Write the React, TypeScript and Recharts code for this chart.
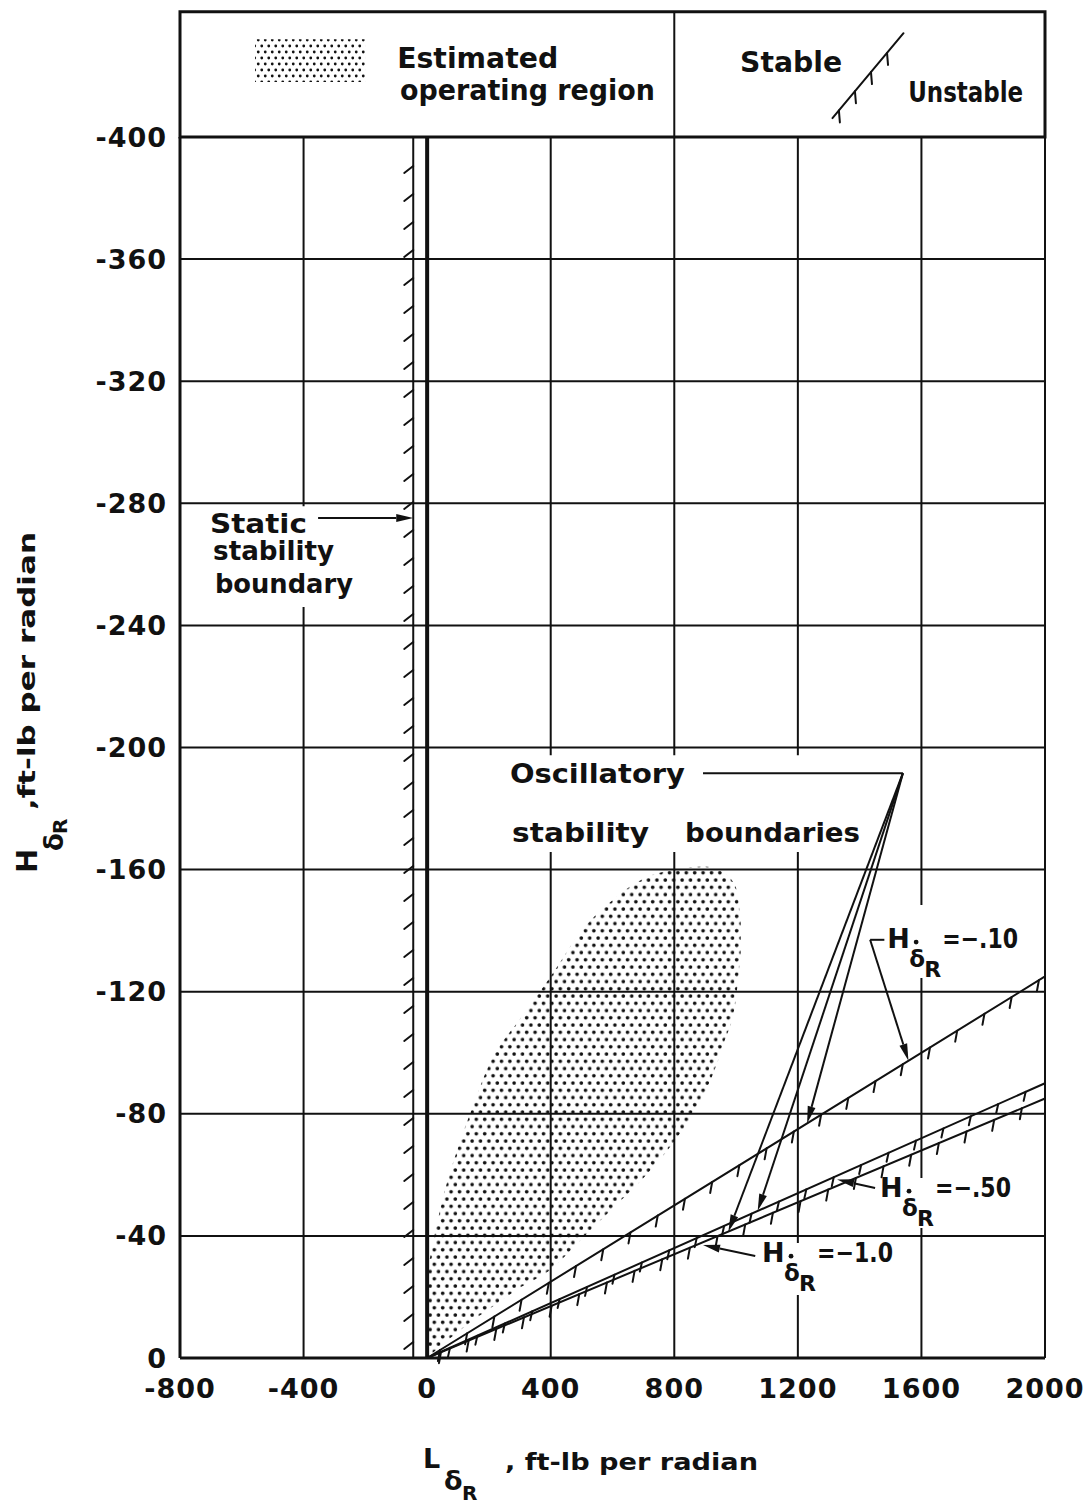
import React from "react"
import {
  ComposedChart,
  Area,
  XAxis,
  YAxis,
  CartesianGrid,
  ReferenceLine,
  ReferenceArea,
  ReferenceDot,
  Label,
} from "recharts"

const FONT = "'DejaVu Sans', Verdana, sans-serif"
const INK = "#111"

const xTicks = [-800, -400, 0, 400, 800, 1200, 1600, 2000]
const yTicks = [0, -40, -80, -120, -160, -200, -240, -280, -320, -360, -400]

// estimated operating region: lower and upper edge of H for each L
const regionL = [0, 50, 100, 150, 200, 300, 400, 500, 600, 700, 800, 900, 960, 1000, 1015]
const regionLower = [0, -4.5, -8.5, -12.5, -16, -23, -29, -39, -49, -59, -71, -87, -103, -118, -133]
const regionUpper = [-28, -52, -69, -83, -96, -111, -125, -140, -150, -157, -160, -161, -159, -154, -143]

// oscillatory stability boundaries run straight out of the origin
const dampingValues = ["\u2212.10", "\u2212.50", "\u22121.0"]
const boundaryEndL = 2000
const boundaryEndH = [-125, -90, -85]

// static stability boundary
const staticL = -45

// leader of the "Oscillatory stability boundaries" note and its arrow tips
const oscLeaderL = [893, 1540]
const oscLeaderH = -191.6
const oscTipL = [975, 1070, 1230]
const oscTipH = [-41.4, -48.2, -76.9]

// line with short hatch strokes on its unstable side
const hatched =
  (spacing: number, start: number, tdx: number, tdy: number, width = 2) =>
  (p: any) => {
    const { x1, y1, x2, y2 } = p
    const len = Math.hypot(x2 - x1, y2 - y1)
    const ux = (x2 - x1) / len
    const uy = (y2 - y1) / len
    const ticks = []
    for (let s = start; s < len - 4; s += spacing) {
      const x = x1 + ux * s
      const y = y1 + uy * s
      ticks.push(<line key={s} x1={x} y1={y} x2={x + tdx} y2={y + tdy} />)
    }
    return (
      <g stroke={INK} strokeWidth={width} strokeLinecap="round" fill="none">
        <line x1={x1} y1={y1} x2={x2} y2={y2} />
        {ticks}
      </g>
    )
  }

// plain line ending in a filled arrow head at (x2, y2)
const arrow = (p: any) => {
  const { x1, y1, x2, y2 } = p
  const a = Math.atan2(y2 - y1, x2 - x1)
  const L = 17
  const W = 4
  const bx = x2 - L * Math.cos(a)
  const by = y2 - L * Math.sin(a)
  const nx = -Math.sin(a) * W
  const ny = Math.cos(a) * W
  return (
    <g stroke={INK} strokeWidth={2} fill={INK}>
      <line x1={x1} y1={y1} x2={bx} y2={by} />
      <polygon points={`${x2},${y2} ${bx + nx},${by + ny} ${bx - nx},${by - ny}`} stroke="none" />
    </g>
  )
}

const plainLine = (p: any) => (
  <line x1={p.x1} y1={p.y1} x2={p.x2} y2={p.y2} stroke={INK} strokeWidth={2} />
)

const note = (key: string, x: number, y: number, text: string, width: number, size = 26) => (
  <ReferenceDot
    key={key}
    x={x}
    y={y}
    r={0}
    ifOverflow="visible"
    shape={(p: any) => (
      <text
        x={p.cx}
        y={p.cy}
        fill={INK}
        fontFamily={FONT}
        fontWeight={700}
        fontSize={size}
        textLength={width}
        lengthAdjust="spacingAndGlyphs"
      >
        {text}
      </text>
    )}
  />
)

// H with a dotted delta-R subscript, then "= value"
const dampingNote = (key: string, x: number, y: number, value: string) => (
  <ReferenceDot
    key={key}
    x={x}
    y={y}
    r={0}
    ifOverflow="visible"
    shape={(p: any) => (
      <g fill={INK} fontFamily={FONT} fontWeight={700}>
        <text x={p.cx} y={p.cy} fontSize={27}>H</text>
        <text x={p.cx + 22} y={p.cy + 19} fontSize={23}>δ</text>
        <circle cx={p.cx + 29} cy={p.cy - 6} r={2.4} />
        <text x={p.cx + 37} y={p.cy + 29} fontSize={22}>R</text>
        <text x={p.cx + 55} y={p.cy} fontSize={27} textLength={76} lengthAdjust="spacingAndGlyphs">
          {"=" + value}
        </text>
      </g>
    )}
  />
)

const whiteBox = (key: string, x1: number, x2: number, y1: number, y2: number) => (
  <ReferenceArea key={key} x1={x1} x2={x2} y1={y1} y2={y2} fill="#fff" fillOpacity={1} stroke="none" ifOverflow="visible" />
)

function XTitle(props: any) {
  const vb = props.viewBox
  const x0 = vb.x + 243
  const y0 = vb.y + 110
  return (
    <g fill={INK} fontFamily={FONT} fontWeight={700}>
      <text x={x0} y={y0} fontSize={27}>L</text>
      <text x={x0 + 21} y={y0 + 22} fontSize={27}>δ</text>
      <text x={x0 + 39} y={y0 + 32} fontSize={20}>R</text>
      <text x={x0 + 82} y={y0 + 2} fontSize={23} textLength={253} lengthAdjust="spacingAndGlyphs">
        , ft-lb per radian
      </text>
    </g>
  )
}

function YTitle(props: any) {
  const vb = props.viewBox
  const ox = vb.x - 33
  const oy = vb.y + 736
  return (
    <g transform={`translate(${ox},${oy}) rotate(-90)`} fill={INK} fontFamily={FONT} fontWeight={700}>
      <text x={0} y={0} fontSize={29}>H</text>
      <text x={22} y={26} fontSize={26}>δ</text>
      <text x={39} y={30} fontSize={20}>R</text>
      <text x={63} y={-2} fontSize={23} textLength={278} lengthAdjust="spacingAndGlyphs">
        ,ft-lb per radian
      </text>
    </g>
  )
}

const tickStyle = { fill: INK, fontSize: 27, fontWeight: 700, fontFamily: FONT, letterSpacing: 1 }

export default function App() {
  const data = regionL.map((L, i) => ({ L, range: [regionLower[i], regionUpper[i]] }))

  return (
    <div style={{ width: 1083, height: 1500, background: "#fff" }}>
      <ComposedChart
        width={1083}
        height={1500}
        data={data}
        margin={{ top: 129, right: 46, bottom: 110, left: 62 }}
      >
        <defs>
          <pattern id="stipple" patternUnits="userSpaceOnUse" width="8.4" height="14.5">
            <circle cx="2.1" cy="2" r="1.8" fill={INK} />
            <circle cx="6.3" cy="9.25" r="1.8" fill={INK} />
          </pattern>
          <pattern id="stippleKey" patternUnits="userSpaceOnUse" width="7" height="12">
            <circle cx="1.75" cy="2" r="1.4" fill={INK} />
            <circle cx="5.25" cy="8" r="1.4" fill={INK} />
          </pattern>
        </defs>

        <CartesianGrid stroke={INK} strokeWidth={2} />

        <XAxis
          type="number"
          dataKey="L"
          domain={[-800, 2000]}
          ticks={xTicks}
          interval={0}
          allowDataOverflow
          tickLine={false}
          axisLine={{ stroke: INK, strokeWidth: 3 }}
          tick={tickStyle}
          tickMargin={15}
          height={40}
        >
          <Label content={XTitle} />
        </XAxis>
        <YAxis
          type="number"
          domain={[-400, 0]}
          reversed
          ticks={yTicks}
          interval={0}
          allowDataOverflow
          tickLine={false}
          axisLine={{ stroke: INK, strokeWidth: 3 }}
          tick={tickStyle}
          tickMargin={7}
          width={110}
        >
          <Label content={YTitle} />
        </YAxis>

        {/* gaps in the grid behind the notes */}
        {whiteBox("wb-static", -735, -210, -279, -246)}
        {whiteBox("wb-osc", 252, 1434, -197.5, -165.8)}
        {whiteBox("wb-d10", 1427, 1918, -148.4, -124.5)}
        {whiteBox("wb-d50", 1457, 1903, -59, -42.6)}
        {whiteBox("wb-d100", 1068, 1492, -37.7, -20.6)}

        {/* key box above the plot */}
        <ReferenceArea
          x1={-800}
          x2={2000}
          y1={-441}
          y2={-400}
          fill="#fff"
          fillOpacity={1}
          stroke={INK}
          strokeWidth={3}
          ifOverflow="visible"
        />
        <ReferenceLine
          segment={[{ x: 800, y: -441 }, { x: 800, y: -400 }]}
          ifOverflow="visible"
          shape={plainLine}
        />
        <ReferenceArea
          x1={-557}
          x2={-201}
          y1={-432}
          y2={-418}
          fill="url(#stippleKey)"
          fillOpacity={1}
          stroke="none"
          ifOverflow="visible"
        />
        <ReferenceLine
          segment={[{ x: 1312, y: -406.2 }, { x: 1542, y: -434 }]}
          ifOverflow="visible"
          shape={hatched(25, 10, 1, 12)}
        />

        <Area
          dataKey="range"
          type="monotone"
          stroke="none"
          fill="url(#stipple)"
          fillOpacity={1}
          dot={false}
          activeDot={false}
          isAnimationActive={false}
        />

        <ReferenceLine x={0} stroke={INK} strokeWidth={4} />
        <ReferenceLine
          segment={[{ x: staticL, y: 0 }, { x: staticL, y: -400 }]}
          ifOverflow="visible"
          shape={hatched(28, 16, -9, 7)}
        />
        {boundaryEndH.map((h, i) => (
          <ReferenceLine
            key={`b${i}`}
            segment={[{ x: 0, y: 0 }, { x: boundaryEndL, y: h }]}
            ifOverflow="visible"
            shape={hatched(i === 0 ? 32 : 30, i === 1 ? 25 : 15, -2, i === 1 ? 9 : 11)}
          />
        ))}

        {/* leaders and arrows */}
        <ReferenceLine
          segment={[{ x: -353, y: -275.2 }, { x: staticL, y: -275.2 }]}
          ifOverflow="visible"
          shape={arrow}
        />
        <ReferenceLine
          segment={[{ x: oscLeaderL[0], y: oscLeaderH }, { x: oscLeaderL[1], y: oscLeaderH }]}
          ifOverflow="visible"
          shape={plainLine}
        />
        {oscTipL.map((l, i) => (
          <ReferenceLine
            key={`o${i}`}
            segment={[{ x: oscLeaderL[1], y: oscLeaderH }, { x: l, y: oscTipH[i] }]}
            ifOverflow="visible"
            shape={arrow}
          />
        ))}
        <ReferenceLine
          segment={[{ x: 1434, y: -137 }, { x: 1480, y: -137 }]}
          ifOverflow="visible"
          shape={plainLine}
        />
        <ReferenceLine
          segment={[{ x: 1434, y: -137 }, { x: 1558, y: -97.4 }]}
          ifOverflow="visible"
          shape={arrow}
        />
        <ReferenceLine
          segment={[{ x: 1450, y: -55.7 }, { x: 1327, y: -58.5 }]}
          ifOverflow="visible"
          shape={arrow}
        />
        <ReferenceLine
          segment={[{ x: 1062, y: -33.4 }, { x: 893, y: -37 }]}
          ifOverflow="visible"
          shape={arrow}
        />

        {/* notes */}
        {note("estimated", -97, -422.6, "Estimated", 161, 28)}
        {note("operating", -88, -412.1, "operating region", 255, 28)}
        {note("stable", 1013, -421.3, "Stable", 102, 28)}
        {note("unstable", 1557, -411.5, "Unstable", 115, 28)}
        {note("static1", -703, -270.3, "Static", 97, 26)}
        {note("static2", -693, -261.4, "stability", 121, 26)}
        {note("static3", -687, -250.6, "boundary", 138, 26)}
        {note("osc1", 268, -188.4, "Oscillatory", 175, 26)}
        {note("osc2", 275, -169, "stability", 137, 26)}
        {note("osc3", 835, -169, "boundaries", 175, 26)}
        {dampingNote("d10", 1489, -134.3, dampingValues[0])}
        {dampingNote("d50", 1466, -52.7, dampingValues[1])}
        {dampingNote("d100", 1084, -31.4, dampingValues[2])}
      </ComposedChart>
    </div>
  )
}
